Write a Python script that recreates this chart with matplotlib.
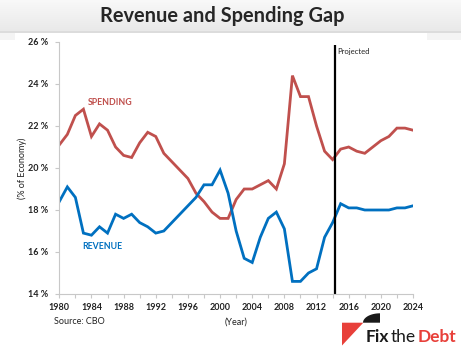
import numpy as np
import matplotlib
matplotlib.use('Agg')
import matplotlib.pyplot as plt
from matplotlib.patches import Polygon, Rectangle

plt.rcParams['font.family'] = ['Lato', 'DejaVu Sans']

years = list(range(1980, 2025))
spending = [21.1, 21.6, 22.5, 22.8, 21.5, 22.1, 21.8, 21.0, 20.6, 20.5,
            21.2, 21.7, 21.5, 20.7, 20.3, 19.9, 19.5, 18.8, 18.4, 17.9,
            17.6, 17.6, 18.5, 19.0, 19.0, 19.2, 19.4, 19.0, 20.2, 24.4,
            23.4, 23.4, 22.0, 20.8, 20.4, 20.9, 21.0, 20.8, 20.7, 21.0,
            21.3, 21.5, 21.9, 21.9, 21.8]
revenue = [18.4, 19.1, 18.6, 16.9, 16.8, 17.2, 16.9, 17.8, 17.6, 17.8,
           17.4, 17.2, 16.9, 17.0, 17.4, 17.8, 18.2, 18.6, 19.2, 19.2,
           19.9, 18.8, 17.0, 15.7, 15.5, 16.7, 17.6, 17.9, 17.1, 14.6,
           14.6, 15.0, 15.2, 16.7, 17.4, 18.3, 18.1, 18.1, 18.0, 18.0,
           18.0, 18.0, 18.1, 18.1, 18.2]
projected_year = 2014.3
x_labels = list(range(1980, 2025, 4))
y_ticks = list(range(14, 27, 2))

red = '#C0504D'
blue = '#0070C0'

fig = plt.figure(figsize=(4.61, 3.5), dpi=100)
fig.patch.set_facecolor('white')

# header band with a soft gradient
bg = fig.add_axes([0, 0, 1, 1], zorder=-10)
bg.axis('off')
grad = np.linspace(0.975, 0.915, 60).reshape(-1, 1)
bg.imshow(np.dstack([grad] * 3), extent=[0, 1, 1 - 31 / 350, 1], aspect='auto')
bg.add_patch(Rectangle((0, 1 - 33 / 350), 1, 2 / 350, color='#dcdcdc', lw=0))
bg.add_patch(Rectangle((0, 1 - 40 / 350), 15 / 461, 7 / 350, color='#f4f4f4', lw=0))
bg.add_patch(Rectangle((427 / 461, 1 - 40 / 350), 34 / 461, 7 / 350, color='#f4f4f4', lw=0))
bg.set_xlim(0, 1)
bg.set_ylim(0, 1)

fig.text(0.482, 1 - 16 / 350, 'Revenue and Spending Gap', ha='center', va='center',
         fontsize=14.4, fontweight='bold', color='#262626')

ax = fig.add_axes([59.3 / 461, 1 - 294 / 350, (413 - 59.3) / 461, 252 / 350])
ax.plot(years, spending, color=red, lw=2.0, solid_joinstyle='miter')
ax.plot(years, revenue, color=blue, lw=2.0, solid_joinstyle='miter')
ax.vlines(projected_year, 14, 25.86, color='black', lw=1.6)
ax.text(projected_year + 0.25, 25.55, 'Projected', fontsize=5.5, color='#222222', va='center')

ax.text(1983.6, 23.14, 'SPENDING', color=red, fontsize=6.3, fontweight='bold', va='center')
ax.text(1982.9, 16.25, 'REVENUE', color=blue, fontsize=6.3, fontweight='bold', va='center')

ax.set_xlim(1980, 2024)
ax.set_ylim(14, 26)
ax.set_xticks(x_labels)
ax.set_xticks(range(1980, 2025, 2), minor=True)
ax.set_yticks(y_ticks)
ax.set_yticklabels([f'{v} %' for v in y_ticks])
for s in ['top', 'right']:
    ax.spines[s].set_visible(False)
for s in ['left', 'bottom']:
    ax.spines[s].set_color('#c8c8c8')
    ax.spines[s].set_linewidth(0.8)
ax.tick_params(axis='both', which='both', color='#c8c8c8', length=3, width=0.8,
               labelsize=6.5, labelcolor='#222222')
ax.tick_params(axis='y', pad=5)
for lbl in ax.get_xticklabels() + ax.get_yticklabels():
    lbl.set_fontweight('bold')

fig.text(22 / 461, 1 - 168 / 350, '(% of Economy)', rotation=90, ha='center', va='center',
         fontsize=6.5, color='#222222')
fig.text(236 / 461, 1 - 322 / 350, '(Year)', ha='center', va='center', fontsize=6.5, color='#222222')
fig.text(54 / 461, 1 - 322 / 350, 'Source: CBO', ha='left', va='center', fontsize=6.5, color='#222222')

# Fix the Debt logo
lg = fig.add_axes([0, 0, 1, 1], zorder=5)
lg.set_xlim(0, 461)
lg.set_ylim(350, 0)
lg.axis('off')
lg.add_patch(Polygon([[342, 322.7], [363.3, 322.7], [342, 345.5]], closed=True, color='#E8403A', lw=0))
t = np.linspace(np.pi / 2, np.pi, 30)
arc = np.column_stack([380 + 17 * np.cos(t), 322.7 - 9.4 * np.sin(t)])
lg.add_patch(Polygon(np.vstack([[[380, 322.7]], arc]), closed=True, color='#1a1a1a', lw=0))
t1 = lg.text(366, 342, 'Fix', fontsize=12.5, fontweight='bold', color='#1a1a1a', va='baseline')
t2 = lg.annotate('the', xy=(1, 0), xycoords=t1, xytext=(1, 0), textcoords='offset points',
                 fontsize=12.5, color='#1a1a1a', va='bottom')
lg.annotate('Debt', xy=(1, 0), xycoords=t2, xytext=(1, 0), textcoords='offset points',
            fontsize=12.5, fontweight='bold', color='#E8403A', va='bottom')

fig.savefig('out.png', dpi=100)
